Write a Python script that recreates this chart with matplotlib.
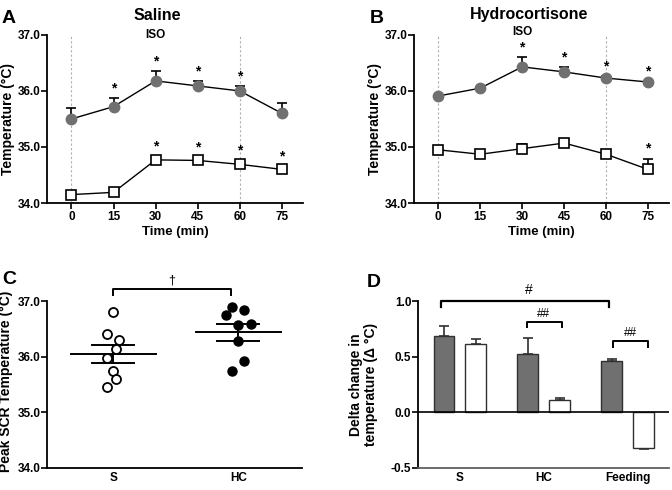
import numpy as np
import matplotlib.pyplot as plt

plt.rcParams['font.family'] = ['Liberation Sans', 'DejaVu Sans']
plt.rcParams['font.weight'] = 'bold'
plt.rcParams['axes.labelweight'] = 'bold'

# time course data (panels A and B)
times = [0, 15, 30, 45, 60, 75]
sal_grey = [35.50, 35.72, 36.18, 36.09, 36.00, 35.60]
sal_grey_err = [0.19, 0.16, 0.18, 0.09, 0.09, 0.19]
sal_open = [34.15, 34.19, 34.77, 34.76, 34.69, 34.60]
sal_open_err = [0.03, 0.03, 0.04, 0.04, 0.04, 0.03]
sal_grey_star = [False, True, True, True, True, False]
sal_open_star = [False, False, True, True, True, True]

hc_grey = [35.91, 36.05, 36.43, 36.34, 36.23, 36.16]
hc_grey_err = [0.02, 0.02, 0.17, 0.09, 0.03, 0.02]
hc_open = [34.95, 34.87, 34.97, 35.07, 34.87, 34.60]
hc_open_err = [0.03, 0.08, 0.08, 0.07, 0.07, 0.18]
hc_grey_star = [False, False, True, True, True, True]
hc_open_star = [False, False, False, False, False, True]

# panel C
s_points = [36.80, 36.40, 36.30, 36.13, 35.98, 35.75, 35.60, 35.46]
s_jitter = [0, -1, 1, 0.5, -1, 0, 0.5, -1]
hc_points = [36.89, 36.83, 36.74, 36.59, 36.56, 36.28, 35.93, 35.75]
hc_jitter = [-0.5, 0.5, -1, 1, 0, 0, 0.5, -0.5]
s_mean, s_sem = 36.05, 0.16
hc_mean, hc_sem = 36.44, 0.15

# panel D
groups = ['S', 'HC', 'Feeding']
delta_grey = [0.685, 0.52, 0.46]
delta_grey_err = [0.09, 0.145, 0.02]
delta_white = [0.61, 0.11, -0.32]
delta_white_err = [0.05, 0.015, 0.01]

grey = '#707070'
fs_tick = 8.5
fs_lab = 9.5
fs_ylab = 10

fig = plt.figure(figsize=(6.72, 4.9), dpi=100)
axA = fig.add_axes([0.0699, 0.5857, 0.381, 0.343])
axB = fig.add_axes([0.616, 0.5857, 0.3795, 0.343])
axC = fig.add_axes([0.0699, 0.0449, 0.3795, 0.3408])
axD = fig.add_axes([0.622, 0.0449, 0.3735, 0.3408])


def style(ax):
    for side in ['top', 'right']:
        ax.spines[side].set_visible(False)
    for side in ['left', 'bottom']:
        ax.spines[side].set_linewidth(1.3)
    ax.tick_params(direction='out', length=4, width=1.2, labelsize=fs_tick,
                   pad=2)
    ax.tick_params(axis='y', pad=0.8)
    for lab in ax.get_xticklabels() + ax.get_yticklabels():
        lab.set_fontweight('bold')


def time_panel(ax, g, ge, gs, o, oe, os_, iso_y, label_x):
    ax.set_xlim(-8.7, 82.5)
    ax.set_ylim(34, 37)
    for xv in [0, 60]:
        ax.plot([xv, xv], [34, 37], color='#b0b0b0', lw=0.8, ls=(0, (2, 2)),
                zorder=0)
    ax.errorbar(times, o, yerr=[np.zeros(len(oe)), oe], color='black', lw=1,
                capsize=3.5, capthick=1.2, elinewidth=1.2, marker='s', ms=7,
                mfc='white', mec='black', mew=1.2, zorder=3)
    ax.errorbar(times, g, yerr=[np.zeros(len(ge)), ge], color='black', lw=1,
                capsize=3.5, capthick=1.2, elinewidth=1.2, marker='o', ms=7.5,
                mfc=grey, mec=grey, zorder=3)
    for t, v, e, st in zip(times, g, ge, gs):
        if st:
            ax.text(t, v + e + 0.17, '*', ha='center', va='center', fontsize=10)
    for t, v, e, st in zip(times, o, oe, os_):
        if st:
            ax.text(t, v + e + 0.2, '*', ha='center', va='center', fontsize=10)
    ax.text(30, iso_y, 'ISO', ha='center', va='center', fontsize=8.5,
            clip_on=False)
    ax.set_xticks(times)
    ax.set_yticks([34, 35, 36, 37])
    ax.set_yticklabels(['34.0', '35.0', '36.0', '37.0'])
    ax.set_xlabel('Time (min)', fontsize=fs_lab, labelpad=2)
    ax.set_ylabel('Temperature (°C)', fontsize=fs_ylab)
    ax.yaxis.set_label_coords(label_x, 0.5)
    style(ax)


time_panel(axA, sal_grey, sal_grey_err, sal_grey_star,
           sal_open, sal_open_err, sal_open_star, 37.0, -0.125)
time_panel(axB, hc_grey, hc_grey_err, hc_grey_star,
           hc_open, hc_open_err, hc_open_star, 37.06, -0.125)

fig.text(157 / 672, 1 - 15 / 490, 'Saline', ha='center', va='center',
         fontsize=11.5, fontweight='bold')
fig.text(529 / 672, 1 - 15 / 490, 'Hydrocortisone', ha='center',
         va='center', fontsize=11.5, fontweight='bold')

# panel C
axC.set_xlim(-0.53, 1.51)
axC.set_ylim(34, 37)
jit = 0.05
axC.plot(np.array(s_jitter) * jit, s_points, 'o', ms=6.5, mfc='white',
         mec='black', mew=1.3, zorder=3)
axC.plot(1 + np.array(hc_jitter) * jit * 2, hc_points, 'o', ms=6.5,
         mfc='black', mec='black', zorder=3)
for xc, m, se in [(0, s_mean, s_sem), (1, hc_mean, hc_sem)]:
    axC.plot([xc - 0.34, xc + 0.34], [m, m], color='black', lw=1.4)
    axC.plot([xc - 0.17, xc + 0.17], [m + se, m + se], color='black', lw=1.4)
    axC.plot([xc - 0.17, xc + 0.17], [m - se, m - se], color='black', lw=1.4)
    axC.plot([xc, xc], [m - se, m + se], color='black', lw=1.4)
axC.plot([0, 0, 0.94, 0.94], [37.11, 37.22, 37.22, 37.11], color='black',
         lw=1.4, clip_on=False)
axC.text(0.47, 37.36, '†', ha='center', va='center', fontsize=9,
         fontweight='normal')
axC.set_xticks([0, 1])
axC.set_xticklabels(['S', 'HC'])
axC.set_yticks([34, 35, 36, 37])
axC.set_yticklabels(['34.0', '35.0', '36.0', '37.0'])
axC.set_ylabel('Peak SCR Temperature (°C)', fontsize=fs_ylab)
axC.yaxis.set_label_coords(-0.135, 0.52)
style(axC)
axC.tick_params(axis='x', length=0, pad=3)

# panel D
xg = np.arange(len(groups))
off = 0.19
w = 0.25
axD.set_xlim(-0.5, 2.49)
axD.set_ylim(-0.5, 1.0)
axD.bar(xg - off, delta_grey, w, color=grey, edgecolor='#303030', lw=1,
        zorder=2)
axD.bar(xg + off, delta_white, w, color='white', edgecolor='#303030', lw=1,
        zorder=2)
for x, v, e in zip(xg - off, delta_grey, delta_grey_err):
    axD.errorbar(x, v, yerr=[[0], [e]], color='#303030', capsize=3.5,
                 elinewidth=1.2, capthick=1.2, zorder=1)
for x, v, e in zip(xg + off, delta_white, delta_white_err):
    lo, hi = ([0], [e]) if v >= 0 else ([e], [0])
    axD.errorbar(x, v, yerr=[lo, hi], color='#303030', capsize=3.5,
                 elinewidth=1.2, capthick=1.2, zorder=1)
axD.axhline(0, color='black', lw=1.2, zorder=3)
# brackets
axD.plot([-0.22, -0.22, 1.77, 1.77], [0.95, 1.0, 1.0, 0.95], color='black',
         lw=1.6, clip_on=False)
axD.text(0.82, 1.1, '#', ha='center', va='center', fontsize=10,
         fontweight='normal')
axD.plot([0.8, 0.8, 1.21, 1.21], [0.77, 0.81, 0.81, 0.77], color='black',
         lw=1.4)
axD.text(1.0, 0.885, '##', ha='center', va='center', fontsize=8.5,
         fontweight='normal')
axD.plot([1.82, 1.82, 2.24, 2.24], [0.59, 0.64, 0.64, 0.59], color='black',
         lw=1.4)
axD.text(2.03, 0.715, '##', ha='center', va='center', fontsize=8.5,
         fontweight='normal')
axD.set_xticks(xg)
axD.set_xticklabels(groups)
axD.set_yticks([-0.5, 0, 0.5, 1.0])
axD.set_yticklabels(['-0.5', '0.0', '0.5', '1.0'])
axD.set_ylabel('Delta change in\ntemperature (Δ °C)', fontsize=fs_ylab,
               linespacing=1.1)
axD.yaxis.set_label_coords(-0.159, 0.5)
style(axD)
axD.spines['bottom'].set_color('#606060')
axD.tick_params(axis='x', length=0, pad=3)

# panel letters
fig.text(2 / 672, 1 - 10 / 490, 'A', ha='left', va='top', fontsize=14,
         fontweight='bold')
fig.text(370 / 672, 1 - 10 / 490, 'B', ha='left', va='top', fontsize=14,
         fontweight='bold')
fig.text(2 / 672, 1 - 271 / 490, 'C', ha='left', va='top', fontsize=14,
         fontweight='bold')
fig.text(367 / 672, 1 - 274 / 490, 'D', ha='left', va='top', fontsize=14,
         fontweight='bold')

fig.savefig('out.png', dpi=100)
